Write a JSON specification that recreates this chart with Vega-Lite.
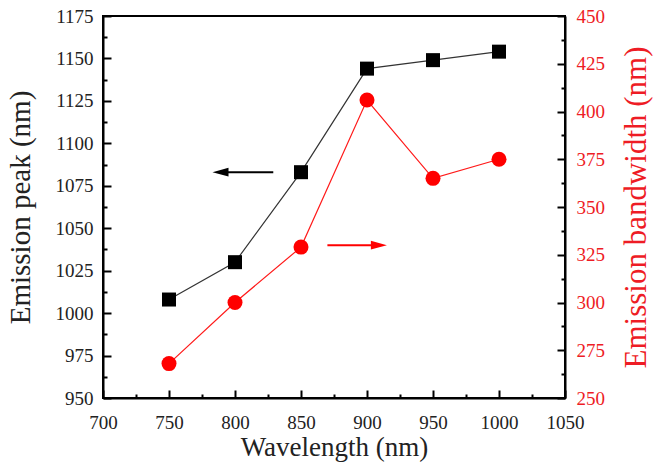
{
  "$schema": "https://vega.github.io/schema/vega-lite/v6.json",
  "width": 462,
  "height": 382,
  "autosize": {"type": "none"},
  "padding": {"left": 103, "top": 16, "right": 93, "bottom": 67},
  "background": "white",
  "config": {
    "view": {"stroke": "#000", "strokeWidth": 2},
    "axis": {
      "grid": false,
      "domainColor": "#000",
      "domainWidth": 2,
      "labelFont": "Liberation Serif",
      "labelFontSize": 19,
      "labelColor": "#222",
      "labelFlush": false,
      "labelOverlap": false,
      "titleFont": "Liberation Serif",
      "titleFontSize": 27,
      "titleFontWeight": "normal",
      "titleColor": "#222",
      "format": "d"
    }
  },
  "datasets": {
    "peak": [
      {"wavelength": 750, "peak": 1008},
      {"wavelength": 800, "peak": 1030},
      {"wavelength": 850, "peak": 1083},
      {"wavelength": 900, "peak": 1144},
      {"wavelength": 950, "peak": 1149},
      {"wavelength": 1000, "peak": 1154}
    ],
    "bandwidth": [
      {"wavelength": 750, "bandwidth": 268},
      {"wavelength": 800, "bandwidth": 300},
      {"wavelength": 850, "bandwidth": 329},
      {"wavelength": 900, "bandwidth": 406},
      {"wavelength": 950, "bandwidth": 365},
      {"wavelength": 1000, "bandwidth": 375}
    ],
    "arrowLeft": [{"from": 829, "to": 789, "head": 789, "level": 1083}],
    "arrowRight": [{"from": 870, "to": 909, "head": 909, "level": 330}]
  },
  "layer": [
    {
      "layer": [
        {
          "data": {"name": "peak"},
          "mark": {"type": "line", "color": "#333", "strokeWidth": 1.2},
          "encoding": {
            "x": {
              "field": "wavelength", "type": "quantitative",
              "scale": {"domain": [700, 1050], "nice": false, "zero": false},
              "axis": {
                "orient": "bottom",
                "title": "Wavelength (nm)",
                "values": [700,750,800,850,900,950,1000,1050],
                "tickColor": "black",
                "tickWidth": 2,
                "tickSize": -8,
                "labelPadding": 23,
                "titlePadding": 2
              }
            },
            "y": {
              "field": "peak", "type": "quantitative",
              "scale": {"domain": [950, 1175], "nice": false, "zero": false},
              "axis": {
                "orient": "left",
                "title": "Emission peak (nm)",
                "titleFontSize": 29,
                "values": [950,975,1000,1025,1050,1075,1100,1125,1150,1175],
                "tickColor": "black",
                "tickWidth": 2,
                "tickSize": -8,
                "labelPadding": 18,
                "titlePadding": 20
              }
            }
          }
        },
        {
          "data": {"name": "peak"},
          "mark": {"type": "point", "shape": "square", "filled": true, "color": "#000", "size": 196, "opacity": 1},
          "encoding": {
            "x": {"field": "wavelength", "type": "quantitative"},
            "y": {
              "field": "peak", "type": "quantitative",
              "axis": {
                "orient": "left",
                "title": null,
                "labels": false,
                "domain": false,
                "values": [962.5,987.5,1012.5,1037.5,1062.5,1087.5,1112.5,1137.5,1162.5],
                "tickColor": "black",
                "tickWidth": 2,
                "tickSize": -4
              }
            }
          }
        },
        {
          "data": {"name": "arrowLeft"},
          "mark": {"type": "rule", "color": "#000", "strokeWidth": 2},
          "encoding": {
            "x": {"field": "from", "type": "quantitative"},
            "x2": {"field": "to"},
            "y": {"field": "level", "type": "quantitative", "axis": null}
          }
        },
        {
          "data": {"name": "arrowLeft"},
          "mark": {"type": "point", "shape": "M-1,0L1,-0.55L1,0.55Z", "filled": true, "color": "#000", "size": 256, "opacity": 1},
          "encoding": {
            "x": {"field": "head", "type": "quantitative"},
            "y": {"field": "level", "type": "quantitative", "axis": null}
          }
        }
      ],
      "resolve": {"axis": {"y": "independent"}}
    },
    {
      "layer": [
        {
          "data": {"name": "bandwidth"},
          "mark": {"type": "line", "color": "#ff1a1a", "strokeWidth": 1.2},
          "encoding": {
            "x": {
              "field": "wavelength", "type": "quantitative",
              "axis": {
                "orient": "bottom",
                "title": null,
                "labels": false,
                "domain": false,
                "values": [725,775,825,875,925,975,1025],
                "tickColor": "black",
                "tickWidth": 2,
                "tickSize": -4
              }
            },
            "y": {
              "field": "bandwidth", "type": "quantitative",
              "scale": {"domain": [250, 450], "nice": false, "zero": false},
              "axis": {
                "orient": "right",
                "title": "Emission bandwidth (nm)",
                "titleAngle": 270,
                "titleBaseline": "top",
                "titleFontSize": 31,
                "values": [250,275,300,325,350,375,400,425,450],
                "tickColor": "black",
                "tickWidth": 2,
                "tickSize": -8,
                "labelPadding": 19,
                "titlePadding": 17,
                "labelColor": "#ee1c25",
                "titleColor": "#ee1c25"
              }
            }
          }
        },
        {
          "data": {"name": "bandwidth"},
          "mark": {"type": "point", "shape": "circle", "filled": true, "color": "#ff0000", "size": 225, "opacity": 1},
          "encoding": {
            "x": {"field": "wavelength", "type": "quantitative"},
            "y": {
              "field": "bandwidth", "type": "quantitative",
              "axis": {
                "orient": "right",
                "title": null,
                "labels": false,
                "domain": false,
                "values": [262.5,287.5,312.5,337.5,362.5,387.5,412.5,437.5],
                "tickColor": "black",
                "tickWidth": 2,
                "tickSize": -4
              }
            }
          }
        },
        {
          "data": {"name": "arrowRight"},
          "mark": {"type": "rule", "color": "#ff0000", "strokeWidth": 2},
          "encoding": {
            "x": {"field": "from", "type": "quantitative"},
            "x2": {"field": "to"},
            "y": {"field": "level", "type": "quantitative", "axis": null}
          }
        },
        {
          "data": {"name": "arrowRight"},
          "mark": {"type": "point", "shape": "M1,0L-1,-0.55L-1,0.55Z", "filled": true, "color": "#ff0000", "size": 256, "opacity": 1},
          "encoding": {
            "x": {"field": "head", "type": "quantitative"},
            "y": {"field": "level", "type": "quantitative", "axis": null}
          }
        }
      ],
      "resolve": {"axis": {"y": "independent"}}
    }
  ],
  "resolve": {"scale": {"y": "independent"}, "axis": {"x": "independent"}}
}
